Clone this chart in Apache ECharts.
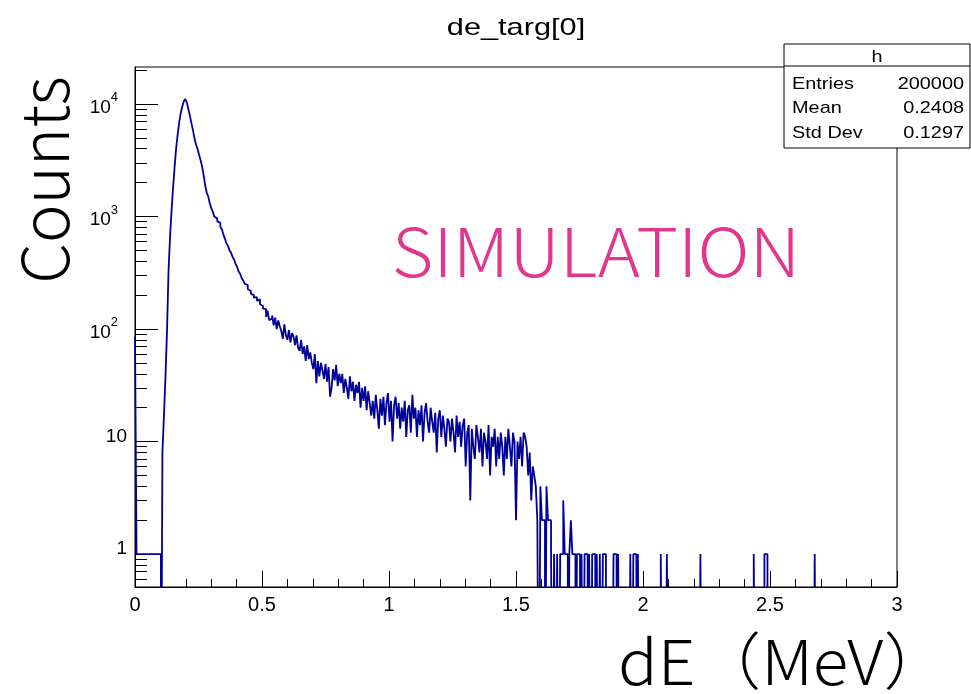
<!DOCTYPE html>
<html>
<head>
<meta charset="utf-8">
<script src="https://cdn.jsdelivr.net/npm/echarts@6/dist/echarts.min.js"></script>
<style>
  html, body { margin: 0; padding: 0; background: #fff; }
  #chart { width: 971px; height: 694px; }
</style>
</head>
<body>
<div id="chart"></div>
<script>
// histogram h: 500 bins from 0 to 3 MeV
const binWidth = 0.006;
const nBins = 500;

// bins 0..52
const countsHead = [85, 1, 1, 1, 1, 1, 1, 1, 1, 1, 1, 1, 1, 1, 1, 1, 1, 0,
  8, 17, 38, 95, 330, 665, 1135, 1820, 2770, 4040, 5330, 6860, 8280, 9490, 10500, 11050,
  10300, 9000, 7870, 6760, 5890, 4980, 4360, 4010, 3550, 3180, 2800, 2340, 1900, 1640,
  1510, 1320, 1190, 1110, 1000];

// bins 53..259
const countsBody = [
  960, 905, 880, 805, 770, 690, 635, 575, 550, 500, 478, 438, 415, 380, 356, 325, 310,
  284, 270, 252, 246, 226, 218, 206, 200, 190, 192, 178, 184, 166, 160, 152, 150,
  128, 146, 120, 124, 132, 108, 126, 100, 119, 106,
  96, 82, 110, 88, 80, 98, 76, 92, 86, 72,
  88, 68, 64, 80, 60, 70, 52, 72, 54, 62,
  50, 44, 60, 33, 52, 38, 50, 43, 36, 49,
  34, 46, 25, 30, 44, 35, 48, 31, 40, 33,
  40, 27, 36, 30, 24, 38, 28, 34, 23, 32,
  27, 34, 20, 30, 23, 31, 19, 28, 22, 17,
  23, 16, 26, 19, 13, 24, 17, 25, 14, 22,
  27, 15, 23, 10, 21, 25, 16, 22, 13, 20,
  15, 23, 11, 19, 21, 12, 26, 16, 20, 11,
  19, 14, 21, 10, 18, 22, 15, 12, 20, 15,
  12, 18, 8, 16, 19, 11, 17, 13, 9, 16,
  15, 10, 16, 12, 8, 17, 11, 15, 9, 14,
  16, 6, 12, 14, 3, 13, 9, 7, 14, 11,
  8, 13, 6, 12, 10, 7, 14, 5, 11, 9,
  13, 6, 11, 7, 12, 9, 5, 11, 7, 13,
  9, 6, 12, 10, 2, 10, 7, 11, 6, 12,
  11, 9, 5, 8];

// bins 260..331
const countsEdge = [
  3, 6, 5, 4, 2, 0, 4, 2, 2, 0,
  4, 2, 2, 1, 0, 1, 0, 1, 0, 1,
  1, 3, 1, 1, 0, 1, 2, 1, 1, 0,
  1, 1, 0, 1, 0, 1, 1, 0, 1, 0,
  1, 1, 0, 1, 0, 1, 0, 1, 1, 0,
  0, 0, 0, 0, 1, 1, 0, 1, 0, 0,
  0, 0, 0, 0, 0, 1, 0, 1, 1, 0,
  1, 0];

// single entries further out
const sparseBins = [345, 349, 371, 406, 413, 414, 446];

const xTickStep = 0.5;
const yMinCount = 0.51;
const yMaxCount = 21300;
const majorCounts = [1, 10, 100, 1000, 10000];

const statsRows = [['Entries', '200000'], ['Mean', '0.2408'], ['Std Dev', '0.1297']];

const counts = new Array(nBins).fill(0);
countsHead.forEach((c, i) => { counts[i] = c; });
countsBody.forEach((c, i) => { counts[53 + i] = c; });
countsEdge.forEach((c, i) => { counts[260 + i] = c; });
sparseBins.forEach(b => { counts[b] = 1; });

// empty bins go below the frame and get clipped
const lg = c => (c > 0 ? Math.log10(c) : -2);
const histData = counts.map((c, i) => [i * binWidth, lg(c)]);
histData.push([nBins * binWidth, lg(counts[nBins - 1])]);

const majorVals = majorCounts.map(Math.log10);
const minorVals = [];
[0.1, 1, 10, 100, 1000, 10000].forEach(d => {
  [2, 3, 4, 5, 6, 7, 8, 9].forEach(m => {
    const v = m * d;
    if (v > yMinCount && v < yMaxCount) minorVals.push(Math.log10(v));
  });
});

const font = 'Liberation Sans, Arial, sans-serif';
const cjk = '"Noto Sans CJK JP", "Noto Sans", sans-serif';

const chart = echarts.init(document.getElementById('chart'), null, { renderer: 'canvas' });

const graphics = [
  { type: 'text', x: 516, y: 28, scaleX: 1.28, style: { text: 'de_targ[0]', font: '24px ' + font, fill: '#000', textAlign: 'center', textVerticalAlign: 'middle' } },
  { type: 'rect', shape: { x: 784, y: 44, width: 186, height: 104 }, style: { fill: '#fff', stroke: '#000', lineWidth: 1 }, z: 10 },
  { type: 'line', shape: { x1: 784, y1: 66, x2: 970, y2: 66 }, style: { stroke: '#000', lineWidth: 1 }, z: 11 },
  { type: 'text', x: 877, y: 57, z: 11, scaleX: 1.17, style: { text: 'h', font: '17px ' + font, fill: '#000', textAlign: 'center', textVerticalAlign: 'middle' } },
  { type: 'text', x: 44, y: 180, rotation: Math.PI / 2, style: { text: 'Counts', font: '300 65px ' + cjk, fill: '#000', textAlign: 'center', textVerticalAlign: 'middle' } },
  { type: 'text', x: 596, y: 252, scaleX: 1.07, style: { text: 'SIMULATION', font: '300 67px ' + cjk, fill: '#e0368e', textAlign: 'center', textVerticalAlign: 'middle' } },
  { type: 'text', x: 618, y: 661, scaleX: 1.06, style: { text: 'dE（MeV）', font: '300 62px ' + cjk, fill: '#000', textAlign: 'left', textVerticalAlign: 'middle' } }
];
statsRows.forEach((row, i) => {
  const y = 84 + i * 24.5;
  graphics.push({ type: 'text', x: 792, y: y, z: 11, scaleX: 1.17, style: { text: row[0], font: '17px ' + font, fill: '#000', textAlign: 'left', textVerticalAlign: 'middle' } });
  graphics.push({ type: 'text', x: 964, y: y, z: 11, scaleX: 1.17, style: { text: row[1], font: '17px ' + font, fill: '#000', textAlign: 'right', textVerticalAlign: 'middle' } });
});

const option = {
  animation: false,
  grid: { left: 135, right: 74, top: 67, bottom: 107, show: true, borderColor: '#000', borderWidth: 1, backgroundColor: 'transparent' },
  xAxis: {
    type: 'value', min: 0, max: nBins * binWidth, interval: xTickStep,
    axisLine: { show: true, onZero: false, lineStyle: { color: '#000', width: 1 } },
    axisTick: { show: true, inside: true, length: 16, lineStyle: { color: '#000' } },
    minorTick: { show: true, splitNumber: 5, length: 8, lineStyle: { color: '#000' } },
    axisLabel: { margin: 8, fontSize: 20, color: '#000', fontFamily: font, formatter: v => String(v) },
    splitLine: { show: false }
  },
  yAxis: [{
    type: 'value', min: Math.log10(yMinCount), max: Math.log10(yMaxCount),
    axisLine: { show: true, onZero: false, lineStyle: { color: '#000', width: 1 } },
    axisTick: { show: true, inside: true, length: 23, customValues: majorVals, lineStyle: { color: '#000' } },
    axisLabel: {
      customValues: majorVals, margin: 8,
      formatter: v => {
        const e = Math.round(v);
        if (e === 0) return '{p|1}';
        if (e === 1) return '{p|10}';
        return '{n|10}{s|' + e + '}{g|}';
      },
      rich: {
        p: { fontSize: 19, fontFamily: font, color: '#000', padding: [0, 0, 10, 0] },
        n: { fontSize: 19, fontFamily: font, color: '#000', lineHeight: 26, verticalAlign: 'bottom' },
        s: { fontSize: 13, fontFamily: font, color: '#000', lineHeight: 26, verticalAlign: 'top' },
        g: { width: 9 }
      }
    },
    splitLine: { show: false }
  }, {
    type: 'value', min: Math.log10(yMinCount), max: Math.log10(yMaxCount), position: 'left',
    axisLine: { show: false },
    axisTick: { show: true, inside: true, length: 12, customValues: minorVals, lineStyle: { color: '#000' } },
    axisLabel: { show: false },
    splitLine: { show: false }
  }],
  series: [{
    type: 'line',
    data: histData,
    step: 'end',
    symbol: 'none',
    clip: true,
    sampling: false,
    lineStyle: { color: '#000099', width: 1.8 }
  }],
  graphic: graphics
};
chart.setOption(option);
</script>
</body>
</html>
